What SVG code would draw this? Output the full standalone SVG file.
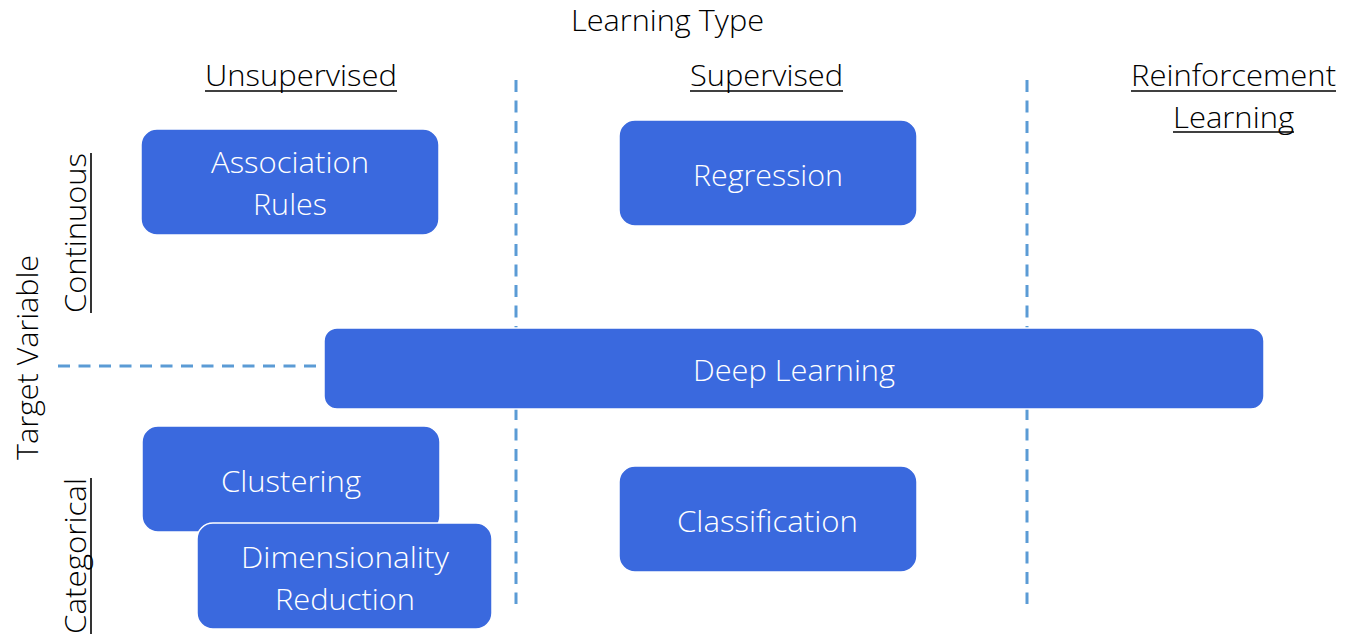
<svg xmlns="http://www.w3.org/2000/svg" width="1370" height="637" viewBox="0 0 1370 637">
<style>
.box{fill:#3A69DE;stroke:#fff;stroke-width:1.5}
.bt{fill:#fff;font-family:"Open Sans","Liberation Sans",sans-serif;font-weight:300;font-size:29px;text-anchor:middle}
.lt{fill:#000;font-family:"Open Sans","Liberation Sans",sans-serif;font-weight:300;font-size:29px;text-anchor:middle}
.ul{stroke:#000;stroke-width:1.6}
.dash{stroke:#5B9BD5;stroke-width:3;stroke-dasharray:12 8.5;fill:none}
</style>
<rect width="1370" height="637" fill="#fff"/>
<g id="connectors">
<line class="dash" x1="516" y1="80" x2="516" y2="604"/>
<line class="dash" x1="1027" y1="80" x2="1027" y2="604"/>
<line class="dash" x1="58" y1="366" x2="330" y2="366"/>
</g>
<g id="labels">
<text class="lt" x="667.5" y="31" textLength="193" lengthAdjust="spacingAndGlyphs">Learning Type</text>
<text class="lt" x="301" y="86" textLength="192" lengthAdjust="spacingAndGlyphs">Unsupervised</text>
<line class="ul" x1="205" y1="91" x2="397" y2="91"/>
<text class="lt" x="766.5" y="86" textLength="153" lengthAdjust="spacingAndGlyphs">Supervised</text>
<line class="ul" x1="690" y1="91" x2="843" y2="91"/>
<text class="lt" x="1233.5" y="86" textLength="205" lengthAdjust="spacingAndGlyphs">Reinforcement</text>
<line class="ul" x1="1131" y1="91" x2="1336" y2="91"/>
<text class="lt" x="1233.5" y="128" textLength="121" lengthAdjust="spacingAndGlyphs">Learning</text>
<line class="ul" x1="1173" y1="132" x2="1294" y2="132"/>
<text class="lt" transform="translate(38,357.5) rotate(-90)" textLength="205" lengthAdjust="spacingAndGlyphs">Target Variable</text>
<text class="lt" transform="translate(86,233) rotate(-90)" textLength="160" lengthAdjust="spacingAndGlyphs">Continuous</text>
<line class="ul" x1="91" y1="153" x2="91" y2="313"/>
<text class="lt" transform="translate(86,556) rotate(-90)" textLength="156" lengthAdjust="spacingAndGlyphs">Categorical</text>
<line class="ul" x1="91" y1="478" x2="91" y2="634"/>
</g>
<g id="association-rules">
<rect class="box" x="141" y="129" width="298" height="106" rx="16"/>
<text class="bt" x="290" y="173" textLength="158" lengthAdjust="spacingAndGlyphs">Association</text>
<text class="bt" x="290" y="215" textLength="74" lengthAdjust="spacingAndGlyphs">Rules</text>
</g>
<g id="regression">
<rect class="box" x="619" y="120" width="298" height="106" rx="16"/>
<text class="bt" x="768" y="186" textLength="150" lengthAdjust="spacingAndGlyphs">Regression</text>
</g>
<g id="deep-learning">
<rect class="box" x="324" y="328" width="940" height="81" rx="13"/>
<text class="bt" x="794" y="381" textLength="202" lengthAdjust="spacingAndGlyphs">Deep Learning</text>
</g>
<g id="clustering">
<rect class="box" x="142" y="426" width="298" height="106" rx="16"/>
<text class="bt" x="291" y="492" textLength="140" lengthAdjust="spacingAndGlyphs">Clustering</text>
</g>
<g id="dimensionality-reduction">
<rect class="box" x="197" y="523" width="295" height="106" rx="16"/>
<text class="bt" x="345" y="568" textLength="208" lengthAdjust="spacingAndGlyphs">Dimensionality</text>
<text class="bt" x="345" y="610" textLength="140" lengthAdjust="spacingAndGlyphs">Reduction</text>
</g>
<g id="classification">
<rect class="box" x="619" y="466" width="298" height="106" rx="16"/>
<text class="bt" x="767.5" y="532" textLength="181" lengthAdjust="spacingAndGlyphs">Classification</text>
</g>
</svg>
